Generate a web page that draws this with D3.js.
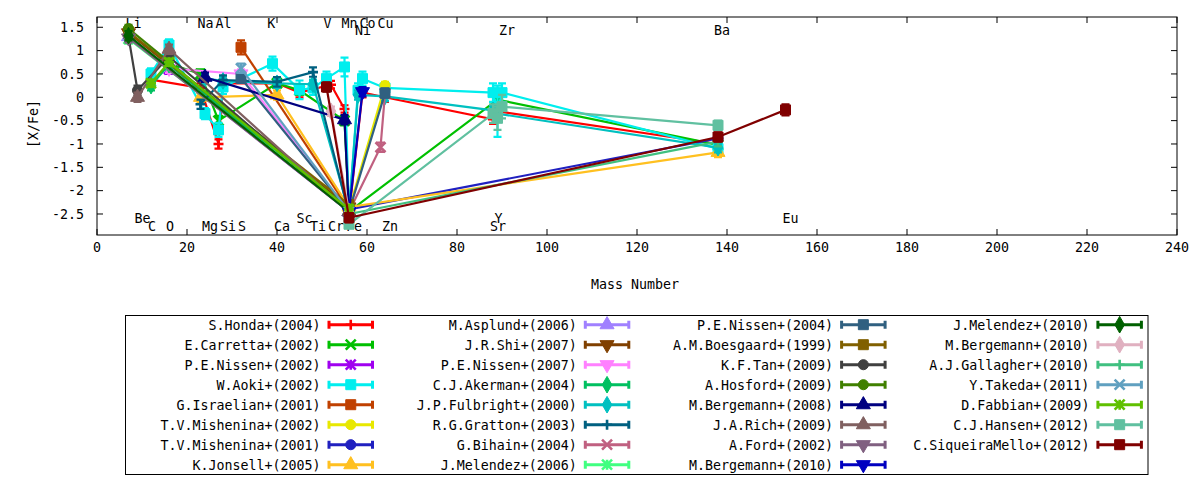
<!DOCTYPE html>
<html>
<head>
<meta charset="UTF-8">
<title>[X/Fe] vs Mass Number</title>
<script src="https://cdn.jsdelivr.net/npm/d3@7"></script>
<style>
  body { margin: 0; background: #fff; }
  text { font-family: "DejaVu Sans Mono", monospace; font-size: 13.3px; fill: #000; }
</style>
</head>
<body>
<script>
// mass number used for each element on the x axis
var elementNames = ["Li","Be","C","O","Na","Mg","Al","Si","S","K","Ca","Sc","Ti","V","Cr","Mn","Fe","Ni","Co","Cu","Zn","Sr","Y","Zr","Ba","Eu"];
var massNumbers  = [7, 9, 12, 16, 23, 24, 27, 28, 32, 39, 40, 45, 48, 51, 52, 55, 56, 58, 59, 63, 64, 88, 89, 90, 138, 153];

// element labels written inside the frame (mass, [X/Fe])
var labelText = ["Li","Na","Al","K","V","Mn","Co","Cu","Ni","Zr","Ba","Be","Sc","Y","Eu","C","O","Mg","Si","S","Ca","Ti","Cr","Fe","Zn","Sr"];
var labelMass = [7, 23, 27, 38.5, 51, 55, 59, 63, 58, 90, 137.8, 9, 45, 89, 153, 12, 16, 24, 28, 32, 40, 48, 52, 56, 64, 88];
var labelY    = [1.58, 1.58, 1.58, 1.58, 1.58, 1.58, 1.58, 1.58, 1.44, 1.44, 1.44, -2.6, -2.6, -2.6, -2.6,
                 -2.77, -2.77, -2.77, -2.77, -2.77, -2.77, -2.77, -2.77, -2.77, -2.77, -2.77];

var xTicks = [0, 20, 40, 60, 80, 100, 120, 140, 160, 180, 200, 220, 240];
var yTicks = [-2.5, -2, -1.5, -1, -0.5, 0, 0.5, 1, 1.5];

// each study: [element, [X/Fe], error]
var honda2004 = [["C",0.38,0.1],["Na",0.2,0.1],["Al",-1.0,0.1],["Si",0.3,0.1],["Ca",0.3,0.1],["Sc",0.1,0.1],
                 ["Cr",0.27,0.08],["Mn",-0.25,0.08],["Fe",-2.5,0.1],["Co",0.1,0.1],["Zn",0.0,0.1],
                 ["Sr",-0.47,0.1],["Y",-0.3,0.1],["Ba",-1.0,0.1]];
var carretta2002 = [["O",0.72,0.1],["Na",0.5,0.1],["Al",-0.5,0.1],["Ca",0.3,0.1],["Sc",0.15,0.1],
                    ["Mn",-0.5,0.1],["Fe",-2.45,0.1],["Y",-0.05,0.1],["Ba",-1.02,0.1]];
var nissen2002 = [["O",0.6,0.1],["Fe",-2.45,0.1]];
var aoki2002 = [["C",0.5,0.12],["O",1.12,0.12],["Mg",-0.35,0.12],["Al",-0.7,0.15],["Si",0.22,0.15],
                ["K",0.72,0.15],["Sc",0.16,0.2],["Ti",0.2,0.15],["V",0.4,0.15],["Mn",0.65,0.2],["Fe",-2.5,0.1],
                ["Ni",0.15,0.15],["Co",0.4,0.15],["Zn",0.2,0.1],["Sr",0.1,0.2],["Y",-0.3,0.55],["Zr",0.1,0.2],
                ["Ba",-1.1,0.1]];
var israelian2001 = [["S",1.07,0.15],["Fe",-2.4,0.1]];
var mishenina2002 = [["Fe",-2.4,0.1],["Zn",0.25,0.08]];
var mishenina2001 = [["Fe",-2.4,0.1],["Ba",-0.88,0.1]];
var jonsell2005 = [["Na",0.0,0.1],["Ca",0.05,0.1],["Fe",-2.35,0.1],["Ba",-1.18,0.1]];
var asplund2006 = [["Li",1.3,0.1],["Fe",-2.45,0.1]];
var shi2007 = [["Li",1.38,0.1],["Fe",-2.35,0.1]];
var nissen2007 = [["O",0.62,0.1],["S",0.5,0.1],["Fe",-2.45,0.1]];
var akerman2004 = [["C",0.25,0.1],["O",0.7,0.1],["Fe",-2.45,0.1]];
var fulbright2000 = [["Mg",0.4,0.1],["Si",0.35,0.1],["Ca",0.3,0.1],["Ti",0.28,0.1],["Fe",-2.45,0.1],
                     ["Ni",0.05,0.1],["Zn",0.02,0.1],["Sr",-0.28,0.1],["Y",-0.35,0.1],["Ba",-1.08,0.1]];
var gratton2003 = [["Na",-0.15,0.1],["Si",0.37,0.1],["Ca",0.33,0.1],["Ti",0.54,0.1],["Fe",-2.5,0.1]];
var bihain2004 = [["Fe",-2.45,0.1],["Cu",-1.07,0.1],["Zn",0.08,0.05]];
var melendez2006 = [["Li",1.25,0.1],["Fe",-2.4,0.1]];
var nissen2004 = [["S",0.41,0.1],["Fe",-2.45,0.1],["Zn",0.09,0.1]];
var boesgaard1999 = [["Li",1.4,0.1],["Fe",-2.3,0.1]];
var tan2009 = [["Li",1.3,0.1],["Be",0.15,0.1],["O",0.87,0.1],["Fe",-2.45,0.1]];
var hosford2009 = [["Li",1.47,0.08],["Fe",-2.4,0.1]];
var bergemann2008 = [["Mg",0.43,0.1],["Mn",-0.48,0.1],["Fe",-2.45,0.1]];
var rich2009 = [["Be",0.0,0.1],["O",1.03,0.1],["Fe",-2.45,0.1]];
var ford2002 = [["Li",1.27,0.1],["Fe",-2.45,0.1]];
var bergemann2010a = [["Fe",-2.45,0.1],["Co",0.12,0.1]];
var melendez2010 = [["Li",1.32,0.1],["Fe",-2.45,0.1]];
var bergemann2010b = [["Cr",-0.3,0.1],["Fe",-2.45,0.1]];
var gallagher2010 = [["Fe",-2.5,0.1],["Ba",-0.95,0.1]];
var takeda2011 = [["S",0.62,0.1],["Fe",-2.45,0.1]];
var fabbian2009 = [["C",0.3,0.08],["O",0.75,0.08],["Fe",-2.4,0.1]];
var hansen2012 = [["Fe",-2.72,0.05],["Sr",-0.35,0.2],["Y",-0.45,0.25],["Zr",-0.2,0.25],["Ba",-0.6,0.1]];
var siqueiraMello2012 = [["V",0.22,0.1],["Fe",-2.58,0.1],["Ba",-0.85,0.1],["Eu",-0.27,0.12]];

var studyNames = ["S.Honda+(2004)","E.Carretta+(2002)","P.E.Nissen+(2002)","W.Aoki+(2002)","G.Israelian+(2001)",
  "T.V.Mishenina+(2002)","T.V.Mishenina+(2001)","K.Jonsell+(2005)","M.Asplund+(2006)","J.R.Shi+(2007)",
  "P.E.Nissen+(2007)","C.J.Akerman+(2004)","J.P.Fulbright+(2000)","R.G.Gratton+(2003)","G.Bihain+(2004)",
  "J.Melendez+(2006)","P.E.Nissen+(2004)","A.M.Boesgaard+(1999)","K.F.Tan+(2009)","A.Hosford+(2009)",
  "M.Bergemann+(2008)","J.A.Rich+(2009)","A.Ford+(2002)","M.Bergemann+(2010)","J.Melendez+(2010)",
  "M.Bergemann+(2010)","A.J.Gallagher+(2010)","Y.Takeda+(2011)","D.Fabbian+(2009)","C.J.Hansen+(2012)",
  "C.SiqueiraMello+(2012)"];
var studyData = [honda2004, carretta2002, nissen2002, aoki2002, israelian2001, mishenina2002, mishenina2001,
  jonsell2005, asplund2006, shi2007, nissen2007, akerman2004, fulbright2000, gratton2003, bihain2004,
  melendez2006, nissen2004, boesgaard1999, tan2009, hosford2009, bergemann2008, rich2009, ford2002,
  bergemann2010a, melendez2010, bergemann2010b, gallagher2010, takeda2011, fabbian2009, hansen2012,
  siqueiraMello2012];

// styles
var studyColors = ["#ff0000","#00c000","#a000f0","#00eeee","#c04000","#e8e800","#2020c0","#ffc020","#a080ff",
  "#804000","#ff80ff","#00c060","#00c0c0","#006080","#c06080","#40ff80","#306080","#806000","#404040",
  "#408000","#000080","#806060","#806080","#0000c0","#006000","#e0b0c0","#40c080","#60a0c0","#60c000",
  "#60c0a0","#800000"];
var markerCycle = ["plus","cross","star","square","square","circle","circle","triangle","triangle",
  "tridown","tridown","diamond","diamond"];

var svg = d3.select("body").append("svg")
    .attr("width", 1200)
    .attr("height", 480);

var frameLeft = 97, frameRight = 1177, frameTop = 17, frameBottom = 235;
var x = d3.scaleLinear().domain([0, 240]).range([frameLeft, frameRight]);
var y = d3.scaleLinear().domain([-2.95, 1.72]).range([frameBottom, frameTop]);

var massOf = {};
elementNames.forEach(function (e, i) { massOf[e] = massNumbers[i]; });

//Element labels go under the data, like in the original.
svg.append("g").selectAll("text")
    .data(labelText)
    .enter().append("text")
    .attr("x", function (d, i) { return x(labelMass[i]) - 3; })
    .attr("y", function (d, i) { return y(labelY[i]) + 4.8; })
    .text(function (d) { return d; });

//Draws one marker of the given kind at (cx, cy).
function drawMarker(g, kind, cx, cy, color) {
    var s = 5;
    if (kind == "plus" || kind == "cross" || kind == "star") {
        var p = "";
        if (kind != "cross") p += "M" + (-s) + ",0H" + s + "M0," + (-s) + "V" + s;
        if (kind != "plus") p += "M" + (-s) + "," + (-s) + "L" + s + "," + s + "M" + (-s) + "," + s + "L" + s + "," + (-s);
        g.append("path")
            .attr("d", p)
            .attr("transform", "translate(" + cx + "," + cy + ")")
            .attr("stroke", color).attr("stroke-width", 2.6).attr("fill", "none");
        return;
    }
    var type = d3.symbolSquare, size = 100, rot = 0;
    if (kind == "circle") { type = d3.symbolCircle; size = 80; }
    if (kind == "triangle") { type = d3.symbolTriangle; size = 85; }
    if (kind == "tridown") { type = d3.symbolTriangle; size = 85; rot = 180; }
    if (kind == "diamond") { type = d3.symbolDiamond; size = 80; }
    g.append("path")
        .attr("d", d3.symbol().type(type).size(size)())
        .attr("transform", "translate(" + cx + "," + cy + ") rotate(" + rot + ")")
        .attr("fill", color).attr("stroke", color).attr("stroke-width", 1);
}

//Frame ticks (inward, mirrored on the opposite side).
var tickLen = 6;
var ticks = svg.append("g").attr("stroke", "#000").attr("stroke-width", 1);
xTicks.forEach(function (t) {
    ticks.append("line").attr("x1", x(t)).attr("x2", x(t)).attr("y1", frameBottom).attr("y2", frameBottom - tickLen);
    ticks.append("line").attr("x1", x(t)).attr("x2", x(t)).attr("y1", frameTop).attr("y2", frameTop + tickLen);
});
yTicks.forEach(function (t) {
    ticks.append("line").attr("x1", frameLeft).attr("x2", frameLeft + tickLen).attr("y1", y(t)).attr("y2", y(t));
    ticks.append("line").attr("x1", frameRight).attr("x2", frameRight - tickLen).attr("y1", y(t)).attr("y2", y(t));
});

svg.append("g").selectAll("text")
    .data(xTicks).enter().append("text")
    .attr("x", function (d) { return x(d); })
    .attr("y", 252)
    .attr("text-anchor", "middle")
    .text(function (d) { return d; });

svg.append("g").selectAll("text")
    .data(yTicks).enter().append("text")
    .attr("x", 84)
    .attr("y", function (d) { return y(d) + 4.8; })
    .attr("text-anchor", "end")
    .text(function (d) { return d; });

svg.append("text")
    .attr("x", 635).attr("y", 289)
    .attr("text-anchor", "middle")
    .text("Mass Number");

svg.append("text")
    .attr("transform", "translate(38,124) rotate(-90)")
    .attr("text-anchor", "middle")
    .text("[X/Fe]");

//Data: line, error bars and points per study, in plot order.
svg.append("clipPath").attr("id", "frame")
    .append("rect").attr("x", frameLeft).attr("y", frameTop)
    .attr("width", frameRight - frameLeft).attr("height", frameBottom - frameTop);
var plot = svg.append("g").attr("clip-path", "url(#frame)");
var lineGen = d3.line()
    .x(function (d) { return x(massOf[d[0]]); })
    .y(function (d) { return y(d[1]); });
var cap = 4;

studyData.forEach(function (rows, i) {
    var color = studyColors[i];
    var pts = rows.slice().sort(function (a, b) { return massOf[a[0]] - massOf[b[0]]; });
    var g = plot.append("g");
    g.append("path")
        .attr("d", lineGen(pts))
        .attr("fill", "none").attr("stroke", color).attr("stroke-width", 2.2);
    pts.forEach(function (d) {
        var cx = x(massOf[d[0]]), y1 = y(d[1] - d[2]), y2 = y(d[1] + d[2]);
        g.append("path")
            .attr("d", "M" + cx + "," + y1 + "V" + y2 +
                       "M" + (cx - cap) + "," + y1 + "H" + (cx + cap) +
                       "M" + (cx - cap) + "," + y2 + "H" + (cx + cap))
            .attr("fill", "none").attr("stroke", color).attr("stroke-width", 2.2);
        drawMarker(g, markerCycle[i % 13], cx, y(d[1]), color);
    });
});

//Frame on top.
svg.append("rect")
    .attr("x", frameLeft).attr("y", frameTop)
    .attr("width", frameRight - frameLeft).attr("height", frameBottom - frameTop)
    .attr("fill", "none").attr("stroke", "#000").attr("stroke-width", 1);

//Legend: 4 columns of 8 rows.
var legend = svg.append("g");
legend.append("rect")
    .attr("x", 125.5).attr("y", 315.5).attr("width", 1022.5).attr("height", 159)
    .attr("fill", "none").attr("stroke", "#000").attr("stroke-width", 1);

studyNames.forEach(function (name, i) {
    var col = Math.floor(i / 8), row = i % 8;
    var dx = col * 256.3, ly = 324.7 + row * 20;
    var x1 = 329 + dx, x2 = 372.5 + dx, color = studyColors[i];
    legend.append("text")
        .attr("x", 320.5 + dx).attr("y", ly + 4.8)
        .attr("text-anchor", "end")
        .text(name);
    legend.append("path")
        .attr("d", "M" + x1 + "," + ly + "H" + x2 +
                   "M" + x1 + "," + (ly - 4) + "V" + (ly + 4) +
                   "M" + x2 + "," + (ly - 4) + "V" + (ly + 4))
        .attr("fill", "none").attr("stroke", color).attr("stroke-width", 3);
    drawMarker(legend, markerCycle[i % 13], (x1 + x2) / 2, ly, color);
});
</script>
</body>
</html>
